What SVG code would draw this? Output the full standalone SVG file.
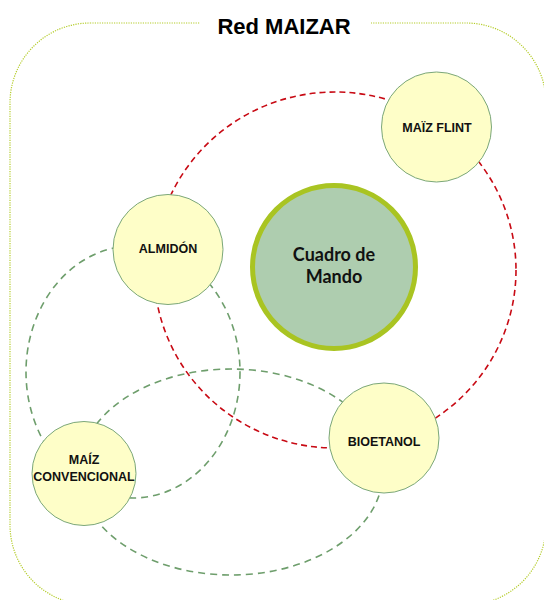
<svg xmlns="http://www.w3.org/2000/svg" width="544" height="600" viewBox="0 0 544 600">
<style>
.frame{fill:none;stroke:#B4CC2A;stroke-width:1.2;stroke-dasharray:1.2 1.2}
.title{font-family:"Liberation Sans",Arial,sans-serif;font-weight:bold;font-size:22px;fill:#000}
.red{fill:none;stroke:#C80A14;stroke-width:1.6;stroke-dasharray:6 4}
.green{fill:none;stroke:#6E9E6C;stroke-width:1.6;stroke-dasharray:7 5}
.node{fill:#FEFEC8;stroke:#7BA77A;stroke-width:1}
.lbl{font-family:"Liberation Sans",Arial,sans-serif;font-weight:bold;font-size:12.5px;fill:#111;text-anchor:middle}
.hub{fill:#AECDAF;stroke:#A9C422;stroke-width:5}
.hublbl{font-family:Lato,"Open Sans",sans-serif;font-weight:bold;font-size:18px;fill:#111;text-anchor:middle}
</style>
<rect width="544" height="600" fill="#fff"/>
<g id="frame">
<rect class="frame" x="10" y="23" width="536" height="582" rx="80" ry="80"/>
<rect x="200" y="14" width="171" height="20" fill="#fff"/>
<text class="title" x="284" y="34" text-anchor="middle">Red MAIZAR</text>
</g>
<g id="connectors">
<ellipse class="red" cx="335" cy="270" rx="181" ry="178"/>
<ellipse class="green" cx="133" cy="372" rx="107" ry="126"/>
<ellipse class="green" cx="231" cy="472" rx="152" ry="103"/>
</g>
<g id="cuadro">
<circle class="hub" cx="334" cy="267" r="81.5"/>
<text class="hublbl" x="334" y="261">Cuadro de</text>
<text class="hublbl" x="334" y="283">Mando</text>
</g>
<g id="maiz-flint">
<circle class="node" cx="436.5" cy="127" r="55"/>
<text class="lbl" x="437" y="132">MAÏZ FLINT</text>
</g>
<g id="almidon">
<circle class="node" cx="168" cy="249.5" r="55"/>
<text class="lbl" x="168" y="253">ALMIDÓN</text>
</g>
<g id="bioetanol">
<circle class="node" cx="384" cy="438" r="55"/>
<text class="lbl" x="384" y="446">BIOETANOL</text>
</g>
<g id="maiz-convencional">
<circle class="node" cx="84" cy="473.5" r="52"/>
<text class="lbl" x="84" y="464">MAÍZ</text>
<text class="lbl" x="84" y="481">CONVENCIONAL</text>
</g>
</svg>
